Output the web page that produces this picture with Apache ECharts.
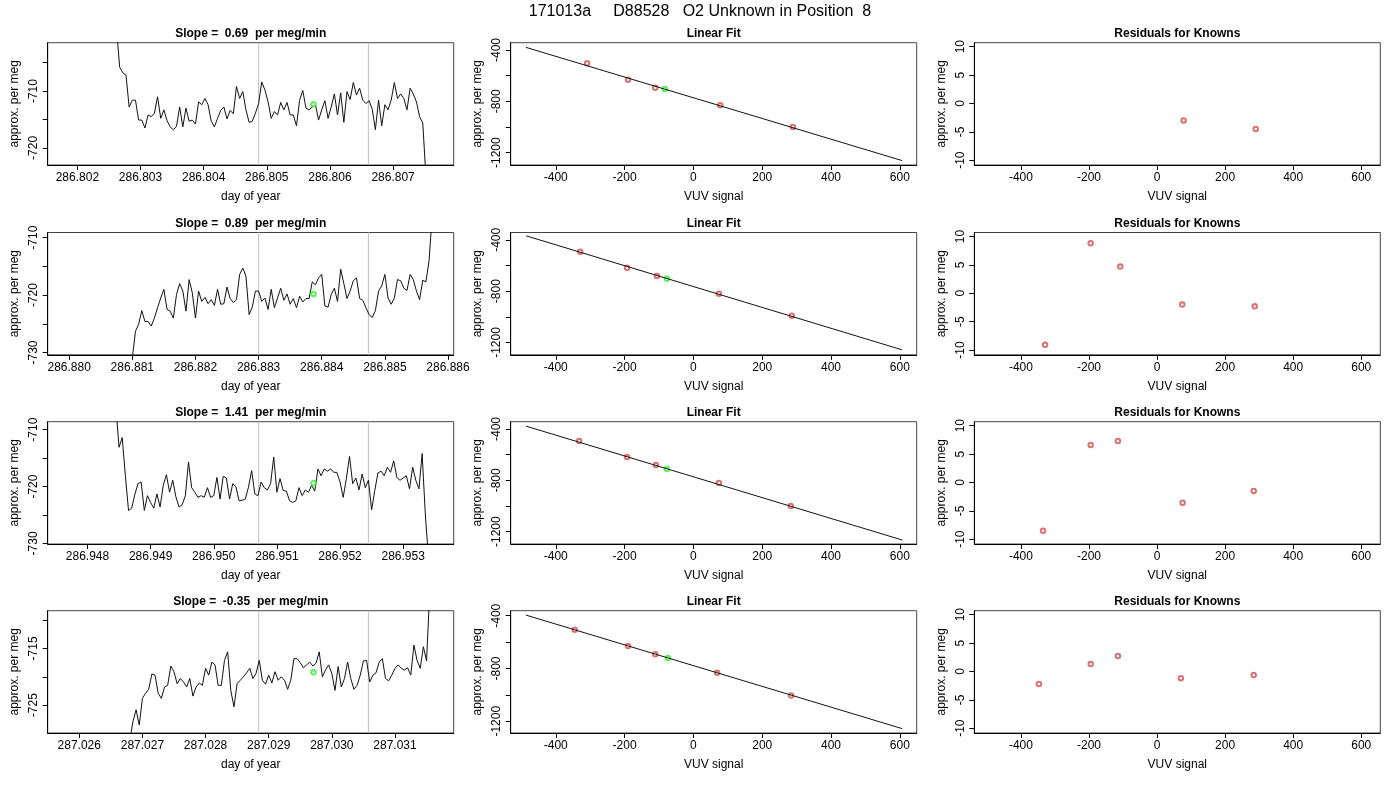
<!DOCTYPE html>
<html>
<head>
<meta charset="utf-8">
<script src="https://cdn.jsdelivr.net/npm/echarts@6/dist/echarts.min.js"></script>
<style>
  html, body { margin: 0; padding: 0; background: #fff; }
  #chart { width: 1400px; height: 800px; }
</style>
</head>
<body>
<div id="chart"></div>
<script>
// --- data ------------------------------------------------------------------
const mainTitle = '171013a     D88528   O2 Unknown in Position  8';
const slopes = ['0.69', '0.89', '1.41', '-0.35'];

// time series: first sample time (day of year), sample step, values (per meg)
const tsStart = [286.80262, 286.88100, 286.94845, 287.02680];
const tsStep = 0.00005;
const ts1 = [-699, -705.8, -706.8, -707.2, -712.8, -711.6, -711.6, -715.1, -715.1, -716.5,
  -714.2, -714.5, -713.9, -711.0, -714.8, -713.3, -715.2, -716.3, -716.8, -716.2,
  -712.8, -716.3, -713.0, -715.3, -715.1, -715.8, -711.9, -712.4, -711.3, -712.4,
  -715.3, -716.3, -714.8, -713.4, -712.8, -714.9, -713.4, -714.0, -709.2, -711.3,
  -710.1, -713.3, -715.5, -715.3, -713.9, -712.2, -708.4, -709.8, -711.9, -714.8,
  -713.6, -714.2, -712.0, -713.3, -712.0, -714.2, -714.2, -716.1, -711.6, -709.9,
  -713.0, -713.3, -712.8, -712.4, -715.1, -713.3, -711.7, -714.8, -712.8, -710.5,
  -714.2, -710.3, -715.5, -710.1, -711.5, -708.5, -710.7, -709.5, -711.6, -712.2,
  -711.7, -713.2, -716.8, -711.6, -716.1, -712.4, -713.3, -711.6, -708.5, -711.3,
  -710.5, -711.3, -713.3, -709.5, -710.5, -711.9, -714.5, -715.6, -725.0];
const ts2 = [-731.0, -726.3, -725.1, -722.7, -724.6, -724.6, -725.4, -724.0, -722.2, -720.5,
  -719.0, -722.5, -722.8, -724.0, -719.9, -718.0, -719.3, -722.8, -717.3, -719.6,
  -724.0, -719.3, -721.1, -720.4, -721.5, -720.8, -721.8, -719.0, -721.6, -721.5,
  -718.6, -720.6, -721.3, -720.8, -716.4, -715.3, -716.7, -723.4, -722.1, -719.3,
  -719.3, -721.1, -720.5, -722.5, -719.0, -722.2, -720.5, -718.8, -720.9, -719.8,
  -721.6, -720.6, -722.2, -720.2, -721.2, -720.6, -720.6, -717.7, -718.2, -717.0,
  -716.4, -721.9, -722.1, -719.9, -718.8, -721.1, -715.5, -718.0, -720.6, -719.3,
  -717.5, -717.0, -720.6, -720.9, -722.2, -723.4, -723.9, -722.7, -719.3, -718.4,
  -716.4, -720.5, -721.6, -720.5, -717.3, -717.5, -718.8, -719.2, -716.4, -717.3,
  -719.3, -720.8, -717.4, -717.7, -714.0, -706.0];
const ts3 = [-706.0, -713.1, -711.4, -718.1, -724.2, -723.8, -721.4, -719.5, -719.2, -724.2,
  -721.6, -722.8, -723.8, -721.3, -723.6, -719.8, -717.9, -721.0, -718.9, -721.8,
  -723.6, -723.2, -721.6, -715.7, -720.2, -721.0, -721.9, -721.6, -721.9, -720.2,
  -721.9, -721.6, -718.4, -722.2, -718.2, -718.5, -722.2, -719.5, -720.0, -722.5,
  -722.4, -722.2, -720.1, -717.2, -721.3, -721.6, -719.2, -720.2, -720.6, -719.5,
  -714.8, -721.0, -718.6, -720.7, -720.8, -722.5, -722.8, -722.5, -720.2, -721.6,
  -720.6, -721.0, -719.8, -720.8, -716.9, -718.1, -716.9, -717.3, -716.9, -717.5,
  -717.5, -719.2, -721.9, -718.6, -714.7, -719.5, -718.5, -720.6, -717.8, -720.2,
  -718.9, -724.1, -720.7, -717.6, -717.3, -718.1, -716.6, -717.5, -715.5, -718.4,
  -718.9, -718.5, -718.1, -720.4, -716.6, -718.9, -720.4, -714.2, -724.8, -732.5];
const ts4 = [-731.2, -727.9, -725.8, -728.5, -723.8, -722.9, -722.2, -719.5, -719.7, -722.9,
  -723.8, -721.8, -721.5, -718.1, -719.1, -721.2, -720.3, -720.9, -721.8, -720.3,
  -723.4, -721.8, -721.1, -721.5, -718.5, -719.7, -717.4, -717.9, -721.5, -721.5,
  -717.1, -715.6, -722.4, -725.3, -721.2, -720.6, -720.0, -719.3, -718.5, -720.3,
  -719.4, -717.1, -720.6, -721.3, -719.7, -721.1, -719.1, -720.6, -720.0, -720.6,
  -722.2, -720.6, -716.8, -716.8, -717.5, -718.4, -717.9, -717.4, -718.1, -717.6,
  -715.6, -720.0, -718.8, -717.9, -719.4, -722.4, -718.2, -721.8, -720.3, -717.4,
  -720.3, -722.2, -721.5, -719.7, -717.2, -717.1, -720.9, -719.7, -719.3, -717.4,
  -716.8, -720.3, -720.7, -719.7, -718.5, -717.9, -718.5, -718.8, -718.4, -719.7,
  -714.4, -717.1, -718.5, -714.7, -717.2, -705.0];
const tsValues = [ts1, ts2, ts3, ts4];

// grey vertical markers and the green unknown point on each time panel
const markerTimes = [[286.80487, 286.80661], [286.88300, 286.88474], [286.95071, 286.95245], [287.02884, 287.03058]];
const unknownPoint = [[286.80574, -712.3], [286.88387, -719.8], [286.95158, -719.4], [287.02971, -719.2]];

// time axis ranges and tick labels
const tsXRange = [[286.80153, 286.80796], [286.87966, 286.88609], [286.94737, 286.95380], [287.02550, 287.03193]];
const tsXTicks = [
  [286.802, 286.803, 286.804, 286.805, 286.806, 286.807],
  [286.880, 286.881, 286.882, 286.883, 286.884, 286.885, 286.886],
  [286.948, 286.949, 286.950, 286.951, 286.952, 286.953],
  [287.026, 287.027, 287.028, 287.029, 287.030, 287.031]];
const tsYRange = [[-723.0, -701.5], [-730.4, -709.1], [-730.1, -708.6], [-729.9, -708.35]];
const tsYTicks = [[-705, -710, -715, -720], [-710, -715, -720, -725, -730], [-710, -715, -720, -725, -730], [-710, -715, -720, -725]];
const tsYLabels = [[-710, -720], [-710, -720, -730], [-710, -720, -730], [-715, -725]];

// linear fit: known standards (red), unknown (green), fitted line end points
const fitX = [[-309, -190, -111, 78, 289], [-329, -193, -106, 74, 286], [-332, -193, -109, 74, 283], [-345, -190, -111, 69, 284]];
const fitY = [[-504, -631, -694, -831, -1000], [-493, -618, -681, -821, -992], [-494, -618, -681, -821, -1000], [-506, -630, -693, -833, -1005]];
const fitUnknown = [[-83, -704], [-77, -704], [-77, -712], [-74, -721]];
const fitLine = [[[-487, -379], [607, -1262]], [[-486, -369], [606, -1257]], [[-487, -377], [607, -1265]], [[-487, -395], [607, -1256]]];
const fitYRange = [[-1296, -343], [-1296, -343], [-1296, -343], [-1289, -362]];
const fitYTicks = [-400, -600, -800, -1000, -1200];
const fitYLabels = [-400, -800, -1200];
const vuvTicks = [-400, -200, 0, 200, 400, 600];

// residuals for knowns
const resX = [[78, 290], [-329, -195, -108, 74, 287], [-335, -195, -115, 75, 284], [-347, -195, -115, 70, 284]];
const resY = [[-3.0, -4.5], [-9.1, 8.8, 4.7, -2.0, -2.3], [-8.5, 6.6, 7.3, -3.6, -1.5], [-2.2, 1.3, 2.7, -1.2, -0.65]];
const resYTicks = [-10, -5, 0, 5, 10];

// --- layout -----------------------------------------------------------------
const FONT = 'Liberation Sans, Arial, sans-serif';
const colLeft = [47.7, 510.7, 974.3];
const colWidth = 406;
const rowTop = [42.7, 232.5, 421.7, 610.7];
const rowHeight = 122.3;

const grids = [], xAxes = [], yAxes = [], series = [], titles = [];

titles.push({
  text: mainTitle, left: 700, top: 4, textAlign: 'center', padding: 0,
  textStyle: {fontFamily: FONT, fontSize: 16, fontWeight: 'normal', color: '#000'}
});

function axis(gridIndex, dim, o)
{
  const isY = dim === 'y';
  return {
    type: 'value', gridIndex: gridIndex, min: o.min, max: o.max,
    axisLine: {show: true, onZero: false, lineStyle: {color: '#000', width: 1}},
    axisTick: {show: true, inside: false, length: 5, customValues: o.ticks, lineStyle: {color: '#000'}},
    axisLabel: {
      customValues: o.labels, color: '#000', fontFamily: FONT, fontSize: 12,
      margin: isY ? 8 : 7, rotate: isY ? 90 : 0, formatter: o.fmt
    },
    splitLine: {show: false},
    name: o.name, nameLocation: 'middle', nameGap: isY ? 27 : 26,
    nameTextStyle: {color: '#000', fontFamily: FONT, fontSize: 12}
  };
}

function panelTitle(text, r, c)
{
  titles.push({
    text: text, left: colLeft[c] + colWidth / 2, top: rowTop[r] - 15, textAlign: 'center', padding: 0,
    textStyle: {fontFamily: FONT, fontSize: 12, fontWeight: 'bold', color: '#000'}
  });
}

const red = '#d05050', green = '#33ee33';
const pointStyle = color => ({color: color, borderWidth: 0.9});

for (let r = 0; r < 4; r++) {
  for (let c = 0; c < 3; c++) {
    grids.push({
      left: colLeft[c], top: rowTop[r], width: colWidth, height: rowHeight,
      show: true, borderColor: '#444', borderWidth: 1, backgroundColor: 'transparent'
    });
  }
  const g0 = r * 3, g1 = r * 3 + 1, g2 = r * 3 + 2;

  // column 1: time series
  panelTitle('Slope =  ' + slopes[r] + '  per meg/min', r, 0);
  xAxes.push(axis(g0, 'x', {
    min: tsXRange[r][0], max: tsXRange[r][1], ticks: tsXTicks[r], labels: tsXTicks[r],
    fmt: v => v.toFixed(3), name: 'day of year'
  }));
  yAxes.push(axis(g0, 'y', {
    min: tsYRange[r][0], max: tsYRange[r][1], ticks: tsYTicks[r], labels: tsYLabels[r],
    fmt: v => String(v), name: 'approx. per meg'
  }));
  markerTimes[r].forEach(t => {
    series.push({
      type: 'line', xAxisIndex: g0, yAxisIndex: g0, showSymbol: false, silent: true, z: 1,
      data: [[t, tsYRange[r][0]], [t, tsYRange[r][1]]],
      lineStyle: {color: '#c8c8c8', width: 1.2}
    });
  });
  series.push({
    type: 'line', xAxisIndex: g0, yAxisIndex: g0, showSymbol: false, clip: true,
    data: tsValues[r].map((v, i) => [tsStart[r] + i * tsStep, v]),
    lineStyle: {color: '#111', width: 1}, z: 3
  });
  series.push({
    type: 'scatter', xAxisIndex: g0, yAxisIndex: g0, symbol: 'emptyCircle', symbolSize: 4.5,
    data: [unknownPoint[r]], itemStyle: pointStyle(green), z: 4
  });

  // column 2: linear fit
  panelTitle('Linear Fit', r, 1);
  xAxes.push(axis(g1, 'x', {
    min: -531, max: 649, ticks: vuvTicks, labels: vuvTicks, fmt: v => String(v), name: 'VUV signal'
  }));
  yAxes.push(axis(g1, 'y', {
    min: fitYRange[r][0], max: fitYRange[r][1], ticks: fitYTicks, labels: fitYLabels,
    fmt: v => String(v), name: 'approx. per meg'
  }));
  series.push({
    type: 'line', xAxisIndex: g1, yAxisIndex: g1, showSymbol: false, data: fitLine[r],
    lineStyle: {color: '#111', width: 1}
  });
  series.push({
    type: 'scatter', xAxisIndex: g1, yAxisIndex: g1, symbol: 'emptyCircle', symbolSize: 4.5,
    data: fitX[r].map((x, i) => [x, fitY[r][i]]), itemStyle: pointStyle(red)
  });
  series.push({
    type: 'scatter', xAxisIndex: g1, yAxisIndex: g1, symbol: 'emptyCircle', symbolSize: 4.5,
    data: [fitUnknown[r]], itemStyle: pointStyle(green)
  });

  // column 3: residuals
  panelTitle('Residuals for Knowns', r, 2);
  xAxes.push(axis(g2, 'x', {
    min: -537, max: 656, ticks: vuvTicks, labels: vuvTicks, fmt: v => String(v), name: 'VUV signal'
  }));
  yAxes.push(axis(g2, 'y', {
    min: -10.85, max: 10.7, ticks: resYTicks, labels: resYTicks, fmt: v => String(v), name: 'approx. per meg'
  }));
  series.push({
    type: 'scatter', xAxisIndex: g2, yAxisIndex: g2, symbol: 'emptyCircle', symbolSize: 4.5,
    data: resX[r].map((x, i) => [x, resY[r][i]]), itemStyle: pointStyle(red)
  });
}

const chart = echarts.init(document.getElementById('chart'), null, {renderer: 'canvas'});
chart.setOption({
  animation: false,
  backgroundColor: '#fff',
  title: titles,
  grid: grids,
  xAxis: xAxes,
  yAxis: yAxes,
  series: series
});
</script>
</body>
</html>
